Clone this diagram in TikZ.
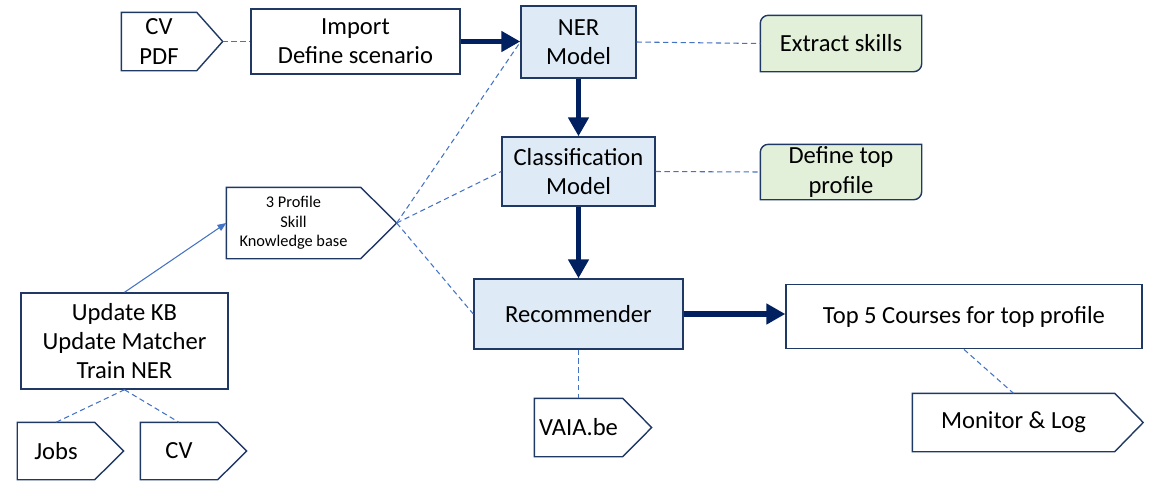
\documentclass[tikz,border=0pt]{standalone}
\usepackage{fontspec}
\setmainfont{Carlito}
\usetikzlibrary{arrows.meta,backgrounds}

\definecolor{navy}{HTML}{002060}
\definecolor{edge}{HTML}{203864}
\definecolor{linkblue}{HTML}{4472C4}
\definecolor{modelblue}{HTML}{DEEBF7}
\definecolor{taskgreen}{HTML}{E2F0D9}

\tikzset{
  box/.style={draw=edge, line width=0.8pt, inner sep=0pt, align=center, font=\fontsize{14}{16.7}\selectfont},
  model/.style={box, fill=modelblue},
  task/.style={box, draw=none},
  tag/.style={box, draw=none},
  flow/.style={navy, line width=3.4pt, -{Triangle[length=0.38cm,width=0.4cm]}},
  hint/.style={linkblue, line width=0.6pt, dash pattern=on 3pt off 2pt},
}

% tag outline: node name, tip length
\newcommand{\tagline}[2]{\draw[edge, line width=0.8pt, line join=miter] (#1.north west) -- (#1.north east) -- ([xshift=#2]#1.east) coordinate (#1-tip) -- (#1.south east) -- (#1.south west) -- cycle;}
% green box with two round corners
\newcommand{\leafline}[1]{\filldraw[draw=edge, fill=taskgreen, line width=0.8pt] ([yshift=-0.16cm]#1.north west) arc (180:90:0.16cm) -- (#1.north east) -- ([yshift=0.16cm]#1.south east) arc (0:-90:0.16cm) -- (#1.south west) -- cycle;}

\begin{document}
\begin{tikzpicture}
  \useasboundingbox (0,0) rectangle (23.08,-9.86);

  \node[tag, minimum width=1.48cm, minimum height=1.14cm] (cvpdf) at (3.18,-0.83) {CV\\PDF};
  \node[box, minimum width=4.18cm, minimum height=1.30cm] (import) at (7.11,-0.83) {Import\\Define scenario};
  \node[model, minimum width=2.30cm, minimum height=1.44cm] (ner) at (11.57,-0.84) {NER\\Model};
  \node[task, minimum width=3.20cm, minimum height=1.10cm] (extract) at (16.82,-0.87) {Extract skills};
  \node[model, minimum width=3.06cm, minimum height=1.38cm] (classif) at (11.57,-3.43) {Classification\\Model};
  \node[task, minimum width=3.20cm, minimum height=1.08cm] (topprofile) at (16.82,-3.44) {Define top\\profile};
  \node[tag, font=\fontsize{9.3}{11}\selectfont, minimum width=2.66cm, minimum height=1.40cm] (kb) at (5.87,-4.46) {3 Profile\\Skill\\Knowledge base};
  \node[model, minimum width=4.18cm, minimum height=1.40cm] (recomm) at (11.57,-6.28) {Recommender};
  \node[box, minimum width=7.12cm, minimum height=1.29cm] (top5) at (19.28,-6.33) {Top 5 Courses for top profile};
  \node[tag, minimum width=4.02cm, minimum height=1.14cm] (monitor) at (20.27,-8.45) {Monitor \& Log};
  \node[tag, minimum width=1.74cm, minimum height=1.14cm] (vaia) at (11.57,-8.55) {VAIA.be};
  \node[box, minimum width=4.14cm, minimum height=1.92cm] (update) at (2.49,-6.82) {Update KB\\Update Matcher\\Train NER};
  \node[tag, minimum width=1.52cm, minimum height=1.12cm] (jobs) at (1.12,-9.02) {Jobs};
  \node[tag, minimum width=1.52cm, minimum height=1.12cm] (cvfile) at (3.58,-9.02) {CV};

  \begin{scope}[on background layer]
    \leafline{extract}
    \leafline{topprofile}
  \end{scope}
  \tagline{cvpdf}{0.52cm}
  \tagline{kb}{0.72cm}
  \tagline{monitor}{0.57cm}
  \tagline{vaia}{0.58cm}
  \tagline{jobs}{0.58cm}
  \tagline{cvfile}{0.58cm}

  % main flow
  \draw[flow] (import.east) -- (import.east -| ner.west);
  \draw[flow] (ner) -- (classif);
  \draw[flow] (classif) -- (recomm);
  \draw[flow] (recomm.east) -- (recomm.east -| top5.west);

  % dashed links
  \draw[hint] (cvpdf-tip) -- (import.west);
  \draw[hint] (ner.east) -- (extract.west);
  \draw[hint] (classif.east) -- (topprofile.west);
  \draw[hint] (kb-tip) -- (ner.west);
  \draw[hint] (kb-tip) -- (classif.west);
  \draw[hint] (kb-tip) -- (recomm.west);
  \draw[hint] (recomm) -- (vaia);
  \draw[hint] (top5.south) -- (monitor.north);
  \draw[hint] (update.south) -- (jobs.north);
  \draw[hint] (update.south) -- (cvfile.north);
  \draw[linkblue, line width=0.6pt, -{Triangle[length=5pt,width=4pt]}] (update.north) -- (kb.west);
\end{tikzpicture}
\end{document}
